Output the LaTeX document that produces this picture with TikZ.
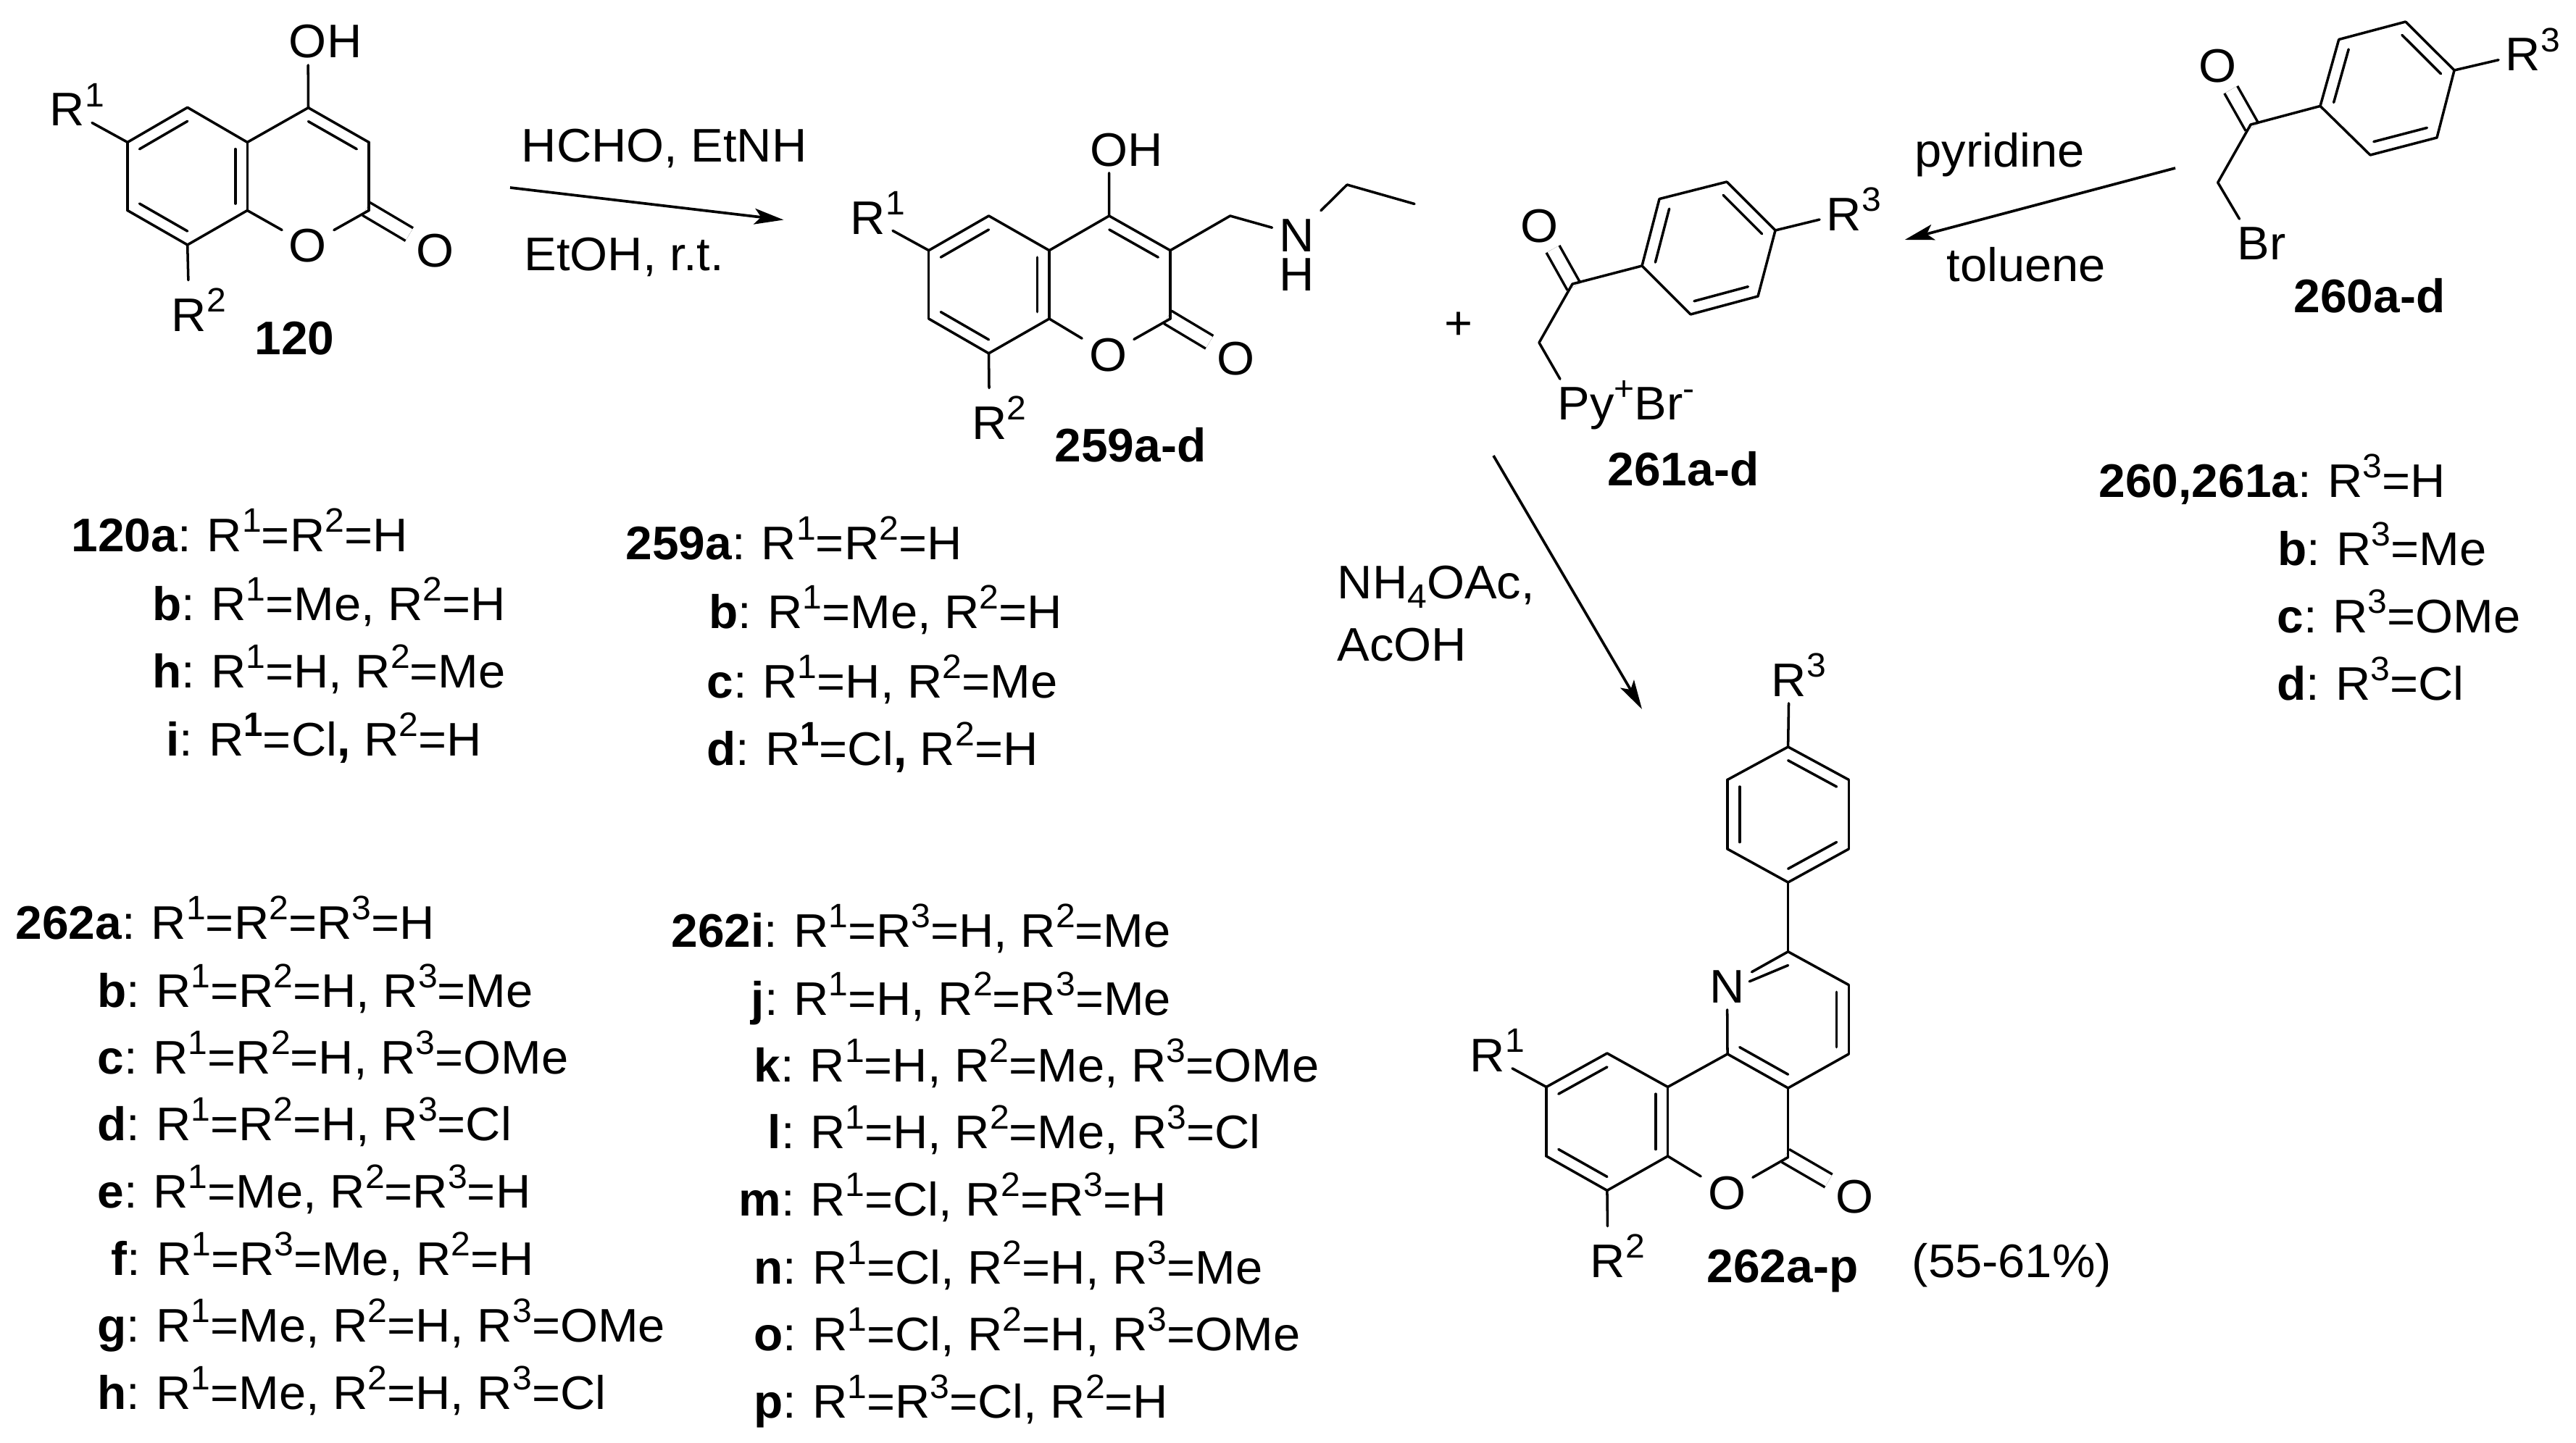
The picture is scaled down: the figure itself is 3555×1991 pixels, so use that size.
\documentclass[tikz,border=0pt]{standalone}
\usepackage{fontspec}
\setmainfont[FakeStretch=1.028,BoldFeatures={FakeStretch=1.012}]{Liberation Sans}
\usepackage{tikz}
\usetikzlibrary{arrows.meta,calc,positioning}
\newcommand{\sps}[1]{\raisebox{.41em}{\fontsize{13.3}{13.3}\selectfont #1}}
\newcommand{\sbs}[1]{\raisebox{-.2em}{\fontsize{13.3}{13.3}\selectfont #1}}
\newcommand{\Rn}[1]{R\sps{#1}}
\newcommand{\Rlab}[1]{R\rlap{\sps{#1}}}
\newcommand{\cln}{:\kern.9pt\ }
\tikzset{
    %Define standard arrow tip
    >={Stealth[length=11.5pt,width=6.2pt,inset=2.6pt]},
    %Define style for atom labels
    atom/.style={
           anchor=base,
           inner sep=0pt,
           outer sep=2.8pt,
           text height=13.2pt,
           text depth=0pt,
           font=\fontsize{18.5}{22}\selectfont},
    %Define style for free text
    lab/.style={
           anchor=base west,
           inner sep=0pt,
           font=\fontsize{18.5}{22}\selectfont},
    % Define bond styles
    bond/.style={
           line width=1pt,
           line cap=round},
    dbond/.style={
           line width=1pt,
           double=white,
           double distance=4.8pt,
           shorten <=-1.2pt},
    % Define arrow style
    pil/.style={
           ->,
           line width=1.05pt}
}
\begin{document}
\begin{tikzpicture}[x=.01cm,y=-.01cm]
\useasboundingbox (0,0) rectangle (3555,1991);
 %carbon atoms
\foreach \n/\x/\y in {
    a1/258.7/148.3, a2/176/196.4, a3/176/290.5, a4/258.7/338, a5/341.3/290.5, a6/341.3/196.4,
    a7/425.5/148.7, a8/509/196.4, a9/509/290.5, ac1/258.7/243.4, ac2/425.5/243.4,
    b1/1364.5/298, b2/1281.7/345.7, b3/1281.7/440, b4/1364.5/487.8, b5/1448/440, b6/1448/345.7,
    b7/1530.7/298, b8/1615/345.7, b9/1615/440, b10/1697.7/298, b11/1859/255, b12/1952/281.5,
    bc1/1364.5/393, bc2/1531.5/393,
    c1/2266/367, c2/2290/274.6, c3/2383/251, c4/2450/318, c5/2426/409, c6/2333/434,
    c7/2170/392, c8/2124/473, cc/2358/342.5,
    d1/3202/146.4, d2/3227.7/54.5, d3/3319.8/30, d4/3387/97, d5/3363/190, d6/3271/214,
    d7/3106/172, d8/3060.7/252, dc/3295/122,
    p1/2467.6/1031, p2/2551.3/1076.4, p3/2551.3/1172, p4/2467.6/1218, p5/2384/1172, p6/2384/1076.4,
    pc/2467.6/1124.5,
    e1/2467.6/1313.7, e2/2551.3/1359.6, e3/2551.3/1455, e4/2467.6/1502, e5/2384/1455,
    e6/2467.6/1597.5, e7/2301.6/1596, e8/2301.6/1500.5, e9/2217.9/1454, e10/2134/1500.5,
    e11/2134/1596, e12/2217.9/1643.4, ec1/2467.6/1408, ec2/2217.9/1548.7}
  \coordinate (\n) at (\x,\y);
 %hetero atoms and R groups
\node[atom](aOH) at (425,80){O\rlap{H}};
\node[atom](aR1) at (93,174){\Rlab1};
\node[atom](aR2) at (261,457){\Rlab2};
\node[atom](aO1) at (425,361){O};
\node[atom](aO2) at (600.7,368){O};
\node[atom](bOH) at (1530.5,229){O\rlap{H}};
\node[atom](bR1) at (1198,323){\Rlab1};
\node[atom](bR2) at (1365.5,606){\Rlab2};
\node[atom](bO1) at (1529,512){O};
\node[atom](bO2) at (1705,517){O};
\node[atom](bN) at (1789.5,347){N};
\node[atom, outer sep=0pt, below=-.6pt of bN](bH){H};
\node[atom](cO) at (2124.5,334){O};
\node[atom](cR3) at (2545,318){\Rlab3};
\node[atom](cPy) at (2172,579.5){P\rlap{y\sps{+}Br\sps{-}}};
\node[atom](dO) at (3060,114){O};
\node[atom](dR3) at (3482,98){\Rlab3};
\node[atom](dBr) at (3110,358.5){B\rlap{r}};
\node[atom](eR3) at (2469,961){\Rlab3};
\node[atom](eN) at (2383.5,1384){N};
\node[atom](eR1) at (2053,1479.5){\Rlab1};
\node[atom](eR2) at (2219,1763){\Rlab2};
\node[atom](eO1) at (2383,1669){O};
\node[atom](eO2) at (2559.5,1674){O};
 %carbonyl bonds
\path (a9) edge[dbond] (aO2)
    (b9) edge[dbond] (bO2)
    (c7) edge[dbond] (cO)
    (d7) edge[dbond] (dO)
    (e6) edge[dbond] (eO2);
 %single bonds
\path[bond]
    (a1) edge (a2) edge (a6)
    (a2) edge (a3) edge (aR1)
    (a3) edge (a4)
    (a4) edge (a5) edge[shorten >=4pt] (aR2)
    (a5) edge (a6) edge (aO1)
    (a6) edge (a7)
    (a7) edge (a8) edge (aOH)
    (a8) edge (a9)
    (a9) edge (aO1)
    (b1) edge (b2) edge (b6)
    (b2) edge (b3) edge (bR1)
    (b3) edge (b4)
    (b4) edge (b5) edge[shorten >=4pt] (bR2)
    (b5) edge (b6) edge (bO1)
    (b6) edge (b7)
    (b7) edge (b8) edge (bOH)
    (b8) edge (b9) edge (b10)
    (b9) edge (bO1)
    (b10) edge (bN)
    (bN) edge (b11)
    (b11) edge (b12)
    (c1) edge (c2) edge (c6) edge (c7)
    (c2) edge (c3)
    (c3) edge (c4)
    (c4) edge (c5) edge (cR3)
    (c5) edge (c6)
    (c7) edge (c8)
    (c8) edge (cPy)
    (d1) edge (d2) edge (d6) edge (d7)
    (d2) edge (d3)
    (d3) edge (d4)
    (d4) edge (d5) edge (dR3)
    (d5) edge (d6)
    (d7) edge (d8)
    (d8) edge (dBr)
    (p1) edge (p2) edge (p6) edge (eR3)
    (p2) edge (p3)
    (p3) edge (p4)
    (p4) edge (p5) edge (e1)
    (p5) edge (p6)
    (e1) edge (e2) edge (eN)
    (e2) edge (e3)
    (e3) edge (e4)
    (e4) edge (e5) edge (e6)
    (e5) edge (eN) edge (e8)
    (e6) edge (eO1)
    (e7) edge (e8) edge (e12) edge (eO1)
    (e8) edge (e9)
    (e9) edge (e10)
    (e10) edge (e11) edge (eR1)
    (e11) edge (e12)
    (e12) edge[shorten >=4pt] (eR2);
 %inner lines of the double bonds
\foreach \u/\v/\c in {
    a1/a2/ac1, a3/a4/ac1, a5/a6/ac1, a7/a8/ac2,
    b1/b2/bc1, b3/b4/bc1, b5/b6/bc1, b7/b8/bc2,
    c1/c2/cc, c3/c4/cc, c5/c6/cc,
    d1/d2/dc, d3/d4/dc, d5/d6/dc,
    p1/p2/pc, p3/p4/pc, p5/p6/pc,
    e2/e3/ec1, e4/e5/ec1,
    e9/e10/ec2, e11/e12/ec2, e7/e8/ec2}
  \draw[bond] ($(\u)!.2!(\c)$) -- ($(\v)!.2!(\c)$);
\draw[bond] ($(e1)!.2!(ec1)$) -- ($(e1)!.72!(eN)!.12!(ec1)$);
 %arrows
\coordinate (s1) at (704,259);
\coordinate (t1) at (1081.4,303.5);
\coordinate (s2) at (3002,232);
\coordinate (t2) at (2628.7,331);
\coordinate (s3) at (2061,629);
\coordinate (t3) at (2266,979);
\draw[pil] (s1) -- (t1);
\draw[pil] (s2) -- (t2);
\draw[pil] (s3) -- (t3);
 %reagents and compound numbers
\node[lab](hcho) at (719,224){HCHO, EtNH};
\node[lab](etoh) at (723,373){EtOH, r.t.};
\node[lab](pyr) at (2642,231){pyridine};
\node[lab](tol) at (2686,388){toluene};
\node[lab](nh4) at (1845,826){NH\sbs{4}OAc,};
\node[lab](acoh) at (1845,912){AcOH};
\node[lab](plus) at (1993,468){+};
\node[lab](m120) at (351,489){\textbf{120}};
\node[lab](m259) at (1455,637){\textbf{259a-d}};
\node[lab](m261) at (2218,670){\textbf{261a-d}};
\node[lab](m260) at (3165,431){\textbf{260a-d}};
\node[lab](m262) at (2355,1770){\textbf{262a-p}};
\node[lab](yield) at (2638,1763){(55-61\%)};
 %substituent tables
\foreach \n/\x/\y/\t in {
    120a/98/761/{\textbf{120a}\cln\Rn1=\Rn2=H},
    120b/210/856/{\textbf{b}\cln\Rn1=Me, \Rn2=H},
    120h/210/949/{\textbf{h}\cln\Rn1=H, \Rn2=Me},
    120i/229/1043/{\textbf{i}\cln\Rn{\textbf{1}}=Cl\textbf{,} \Rn2=H},
    259a/863/772/{\textbf{259a}\cln\Rn1=\Rn2=H},
    259b/978/867/{\textbf{b}\cln\Rn1=Me, \Rn2=H},
    259c/975/963/{\textbf{c}\cln\Rn1=H, \Rn2=Me},
    259d/975/1056/{\textbf{d}\cln\Rn{\textbf{1}}=Cl\textbf{,} \Rn2=H},
    260a/2896/686/{\textbf{260,261a}\cln\Rn3=H},
    260b/3143/780/{\textbf{b}\cln\Rn3=Me},
    260c/3142/873/{\textbf{c}\cln\Rn3=OMe},
    260d/3142/966/{\textbf{d}\cln\Rn3=Cl},
    262a/21/1296/{\textbf{262a}\cln\Rn1=\Rn2=\Rn3=H},
    262b/134/1390/{\textbf{b}\cln\Rn1=\Rn2=H, \Rn3=Me},
    262c/134/1482/{\textbf{c}\cln\Rn1=\Rn2=H, \Rn3=OMe},
    262d/134/1574/{\textbf{d}\cln\Rn1=\Rn2=H, \Rn3=Cl},
    262e/134/1667/{\textbf{e}\cln\Rn1=Me, \Rn2=\Rn3=H},
    262f/153/1760/{\textbf{f}\cln\Rn1=\Rn3=Me, \Rn2=H},
    262g/134/1852/{\textbf{g}\cln\Rn1=Me, \Rn2=H, \Rn3=OMe},
    262h/134/1945/{\textbf{h}\cln\Rn1=Me, \Rn2=H, \Rn3=Cl},
    262i/926/1307/{\textbf{262i}\cln\Rn1=\Rn3=H, \Rn2=Me},
    262j/1036/1401/{\textbf{j}\cln\Rn1=H, \Rn2=\Rn3=Me},
    262k/1040/1493/{\textbf{k}\cln\Rn1=H, \Rn2=Me, \Rn3=OMe},
    262l/1059/1585/{\textbf{l}\cln\Rn1=H, \Rn2=Me, \Rn3=Cl},
    262m/1019/1678/{\textbf{m}\cln\Rn1=Cl, \Rn2=\Rn3=H},
    262n/1040/1772/{\textbf{n}\cln\Rn1=Cl, \Rn2=H, \Rn3=Me},
    262o/1040/1864/{\textbf{o}\cln\Rn1=Cl, \Rn2=H, \Rn3=OMe},
    262p/1040/1957/{\textbf{p}\cln\Rn1=\Rn3=Cl, \Rn2=H}}
  \node[lab](l\n) at (\x,\y){\t};
\end{tikzpicture}
\end{document}
